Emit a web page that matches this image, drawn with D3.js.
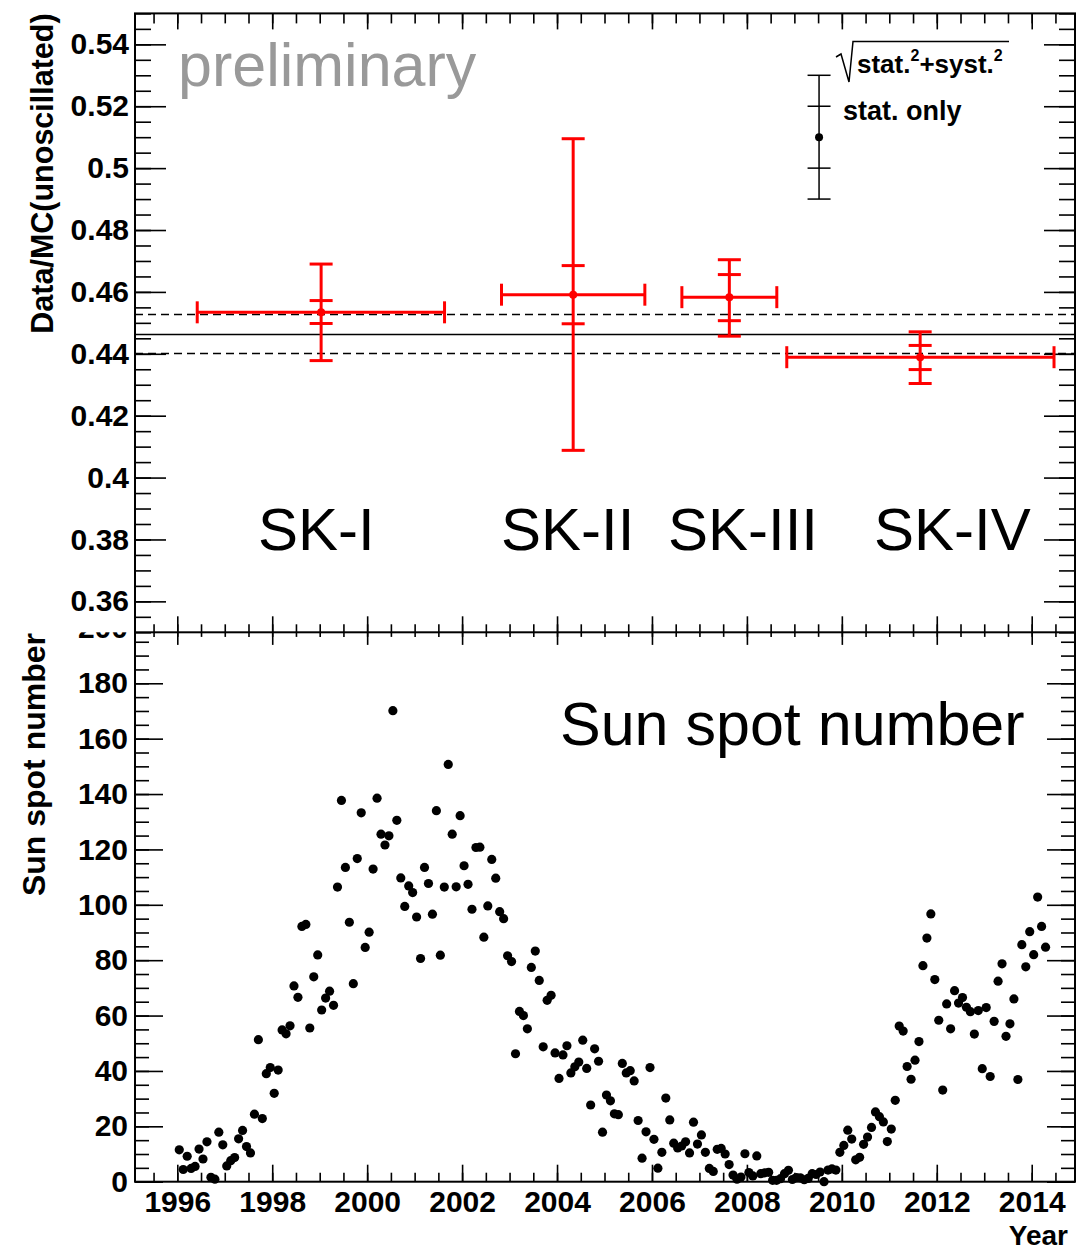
<!DOCTYPE html>
<html>
<head>
<meta charset="utf-8">
<script src="https://cdn.jsdelivr.net/npm/d3@7"></script>
<style>
  body { margin: 0; background: #fff; }
  svg { display: block; }
</style>
</head>
<body>
<div id="chart"></div>
<script>
// SK run periods, Data/MC(unoscillated) ratio with stat and stat+syst errors
const periods = ["SK-I", "SK-II", "SK-III", "SK-IV"];
const periodStart = [1996.42, 2002.83, 2006.63, 2008.84];
const periodEnd = [2001.63, 2005.85, 2008.63, 2014.47];
const periodMid = [1999.03, 2004.34, 2007.63, 2011.65];
const ratio = [0.4534, 0.4591, 0.4583, 0.4389];
const statLow = [0.4498, 0.4497, 0.4507, 0.4349];
const statHigh = [0.4572, 0.4685, 0.4656, 0.4427];
const totLow = [0.4378, 0.4088, 0.4457, 0.4304];
const totHigh = [0.4690, 0.5095, 0.4704, 0.4471];

// combined fit and its band
const avgRatio = 0.4462;
const avgBand = [0.4401, 0.4527];

// legend marker
const legendYear = 2009.52;
const legendRatio = 0.51;
const legendStat = 0.01;
const legendTot = 0.02;

// monthly sun spot numbers, Jan 1996 .. Apr 2014
const sunspotFirstYear = 1996;
const sunspots = [
  11.5, 4.4, 9.2, 4.8, 5.5, 11.8, 8.2, 14.4, 1.6, 0.9, 17.9, 13.3,          // 1996
  5.7, 7.6, 8.7, 15.5, 18.5, 12.7, 10.4, 24.4, 51.3, 22.8, 39.0, 41.2,      // 1997
  31.9, 40.3, 54.8, 53.4, 56.3, 70.7, 66.6, 92.2, 92.9, 55.5, 74.0, 81.9,   // 1998
  62.0, 66.3, 68.8, 63.7, 106.4, 137.7, 113.5, 93.7, 71.5, 116.7, 133.2, 84.6, // 1999
  90.1, 112.9, 138.5, 125.5, 121.6, 124.9, 170.1, 130.5, 109.7, 99.4, 106.8, 104.4, // 2000
  95.6, 80.6, 113.5, 107.7, 96.6, 134.0, 81.8, 106.4, 150.7, 125.5, 106.5, 132.2, // 2001
  114.1, 107.4, 98.4, 120.7, 120.8, 88.3, 99.6, 116.4, 109.6, 97.5, 95.0, 81.6, // 2002
  79.5, 46.2, 61.5, 60.0, 55.2, 77.4, 83.3, 72.7, 48.7, 65.5, 67.3, 46.5,   // 2003
  37.3, 45.8, 49.1, 39.3, 41.5, 43.2, 51.1, 40.9, 27.7, 48.0, 43.5, 17.9,   // 2004
  31.3, 29.2, 24.5, 24.2, 42.7, 39.3, 40.1, 36.4, 22.1, 8.5, 18.0, 41.2,    // 2005
  15.3, 4.9, 10.6, 30.2, 22.3, 13.9, 12.2, 12.9, 14.4, 10.4, 21.5, 13.6,    // 2006
  16.9, 10.6, 4.8, 3.7, 11.7, 12.0, 10.0, 6.2, 2.4, 0.9, 1.7, 10.1,         // 2007
  3.3, 2.1, 9.3, 2.9, 3.2, 3.4, 0.5, 0.5, 1.1, 2.9, 4.1, 0.8,               // 2008
  1.5, 1.4, 0.7, 1.2, 2.9, 2.6, 3.5, 0.0, 4.2, 4.6, 4.2, 10.6,              // 2009
  13.1, 18.6, 15.4, 7.9, 8.8, 13.5, 16.1, 19.6, 25.2, 23.5, 21.6, 14.5,     // 2010
  19.0, 29.4, 56.2, 54.4, 41.6, 37.0, 43.9, 50.6, 78.0, 88.0, 96.7, 73.0,   // 2011
  58.3, 33.1, 64.2, 55.2, 69.0, 64.5, 66.5, 63.0, 61.4, 53.3, 61.8, 40.8,   // 2012
  62.9, 38.0, 57.9, 72.4, 78.7, 52.5, 57.0, 66.0, 36.9, 85.6, 77.6, 90.3,   // 2013
  82.0, 102.8, 92.2, 84.7                                                   // 2014
];

// tick labels
const ratioTicks = [0.36, 0.38, 0.40, 0.42, 0.44, 0.46, 0.48, 0.50, 0.52, 0.54];
const sunTicks = [0, 20, 40, 60, 80, 100, 120, 140, 160, 180, 200];
const yearTicks = [1996, 1998, 2000, 2002, 2004, 2006, 2008, 2010, 2012, 2014];

const FONT = "'Liberation Sans', Arial, Helvetica, sans-serif";

function drawChart(selector) {
  let W = 1088, H = 1248,
    frameL = 135,
    frameR = 1075;

  let svg = d3.select(selector)
    .append("svg")
    .attr("width", W)
    .attr("height", H)
    .attr("font-family", FONT);

  let xYear = d3.scaleLinear().domain([1995.109, 2014.912]).range([frameL, frameR]);
  let ySun = d3.scaleLinear().domain([0, 200]).range([1181.7, 627.9]);
  let yRatio = d3.scaleLinear().domain([0.35, 0.55]).range([632.3, 13.4]);

  let yearMinor = d3.range(1995.5, 2014.91, 0.5);
  let sunMinor = d3.range(0, 200.1, 5);
  let ratioMinor = d3.range(0.35, 0.5501, 0.005);

  // puts a d3 axis on g, ROOT style (ticks only, no domain line)
  function addAxis(g, axis, x, y) {
    let a = g.append("g")
      .attr("transform", "translate(" + x + "," + y + ")")
      .call(axis);
    a.select(".domain").remove();
    a.attr("font-family", FONT)
      .attr("font-size", 30)
      .attr("font-weight", "bold");
    a.selectAll(".tick line")
      .attr("stroke", "#000")
      .attr("stroke-width", 1.6);
    a.selectAll(".tick text").attr("fill", "#000");
    return a;
  }

  // ---------- bottom pad: sun spot number ----------
  let bot = svg.append("g");

  addAxis(bot, d3.axisBottom(xYear).tickValues(yearTicks).tickSize(-17).tickPadding(9).tickFormat(d3.format("d")), 0, ySun(0));
  addAxis(bot, d3.axisBottom(xYear).tickValues(yearMinor).tickSize(-9).tickFormat(""), 0, ySun(0));
  addAxis(bot, d3.axisBottom(xYear).tickValues(yearTicks).tickSize(17).tickFormat(""), 0, ySun(200));
  addAxis(bot, d3.axisBottom(xYear).tickValues(yearMinor).tickSize(9).tickFormat(""), 0, ySun(200));

  addAxis(bot, d3.axisLeft(ySun).tickValues(sunTicks).tickSize(-28).tickPadding(7).tickFormat(d3.format("d")), frameL, 0);
  addAxis(bot, d3.axisLeft(ySun).tickValues(sunMinor).tickSize(-14).tickFormat(""), frameL, 0);
  addAxis(bot, d3.axisLeft(ySun).tickValues(sunTicks).tickSize(28).tickFormat(""), frameR, 0);
  addAxis(bot, d3.axisLeft(ySun).tickValues(sunMinor).tickSize(14).tickFormat(""), frameR, 0);

  bot.append("rect")
    .attr("x", frameL)
    .attr("y", ySun(200))
    .attr("width", frameR - frameL)
    .attr("height", ySun(0) - ySun(200))
    .attr("fill", "none")
    .attr("stroke", "#000")
    .attr("stroke-width", 2);

  bot.selectAll(".spot")
    .data(sunspots)
    .enter().append("circle")
    .attr("class", "spot")
    .attr("cx", (d, i) => xYear(sunspotFirstYear + (i + 0.5) / 12))
    .attr("cy", d => ySun(d))
    .attr("r", 4.6)
    .attr("fill", "#000");

  bot.append("text")
    .attr("x", 560)
    .attr("y", 745)
    .attr("font-size", 61)
    .text("Sun spot number");

  bot.append("text")
    .attr("x", 1068)
    .attr("y", 1245)
    .attr("text-anchor", "end")
    .attr("font-size", 28)
    .attr("font-weight", "bold")
    .text("Year");

  bot.append("text")
    .attr("transform", "translate(45,633) rotate(-90)")
    .attr("text-anchor", "end")
    .attr("font-size", 32)
    .attr("font-weight", "bold")
    .text("Sun spot number");

  // ---------- top pad: Data/MC ratio ----------
  let top = svg.append("g");

  // pad background hides the upper end of the lower pad
  top.append("rect")
    .attr("x", 0)
    .attr("y", 0)
    .attr("width", W)
    .attr("height", yRatio(0.35))
    .attr("fill", "#fff");

  addAxis(top, d3.axisLeft(yRatio).tickValues(ratioTicks).tickSize(-31).tickPadding(6).tickFormat(d => String(+d.toFixed(2))), frameL, 0);
  addAxis(top, d3.axisLeft(yRatio).tickValues(ratioMinor).tickSize(-16).tickFormat(""), frameL, 0);
  addAxis(top, d3.axisLeft(yRatio).tickValues(ratioTicks).tickSize(31).tickFormat(""), frameR, 0);
  addAxis(top, d3.axisLeft(yRatio).tickValues(ratioMinor).tickSize(16).tickFormat(""), frameR, 0);

  addAxis(top, d3.axisTop(xYear).tickValues(yearTicks).tickSize(16).tickFormat(""), 0, yRatio(0.35));
  addAxis(top, d3.axisTop(xYear).tickValues(yearMinor).tickSize(8).tickFormat(""), 0, yRatio(0.35));
  addAxis(top, d3.axisBottom(xYear).tickValues(yearTicks).tickSize(16).tickFormat(""), 0, yRatio(0.55));
  addAxis(top, d3.axisBottom(xYear).tickValues(yearMinor).tickSize(10).tickFormat(""), 0, yRatio(0.55));

  top.append("rect")
    .attr("x", frameL)
    .attr("y", yRatio(0.55))
    .attr("width", frameR - frameL)
    .attr("height", yRatio(0.35) - yRatio(0.55))
    .attr("fill", "none")
    .attr("stroke", "#000")
    .attr("stroke-width", 2);

  // average and its band
  top.append("line")
    .attr("x1", frameL).attr("x2", frameR)
    .attr("y1", yRatio(avgRatio)).attr("y2", yRatio(avgRatio))
    .attr("stroke", "#000")
    .attr("stroke-width", 1.5);

  top.selectAll(".band")
    .data(avgBand)
    .enter().append("line")
    .attr("class", "band")
    .attr("x1", frameL).attr("x2", frameR)
    .attr("y1", d => yRatio(d)).attr("y2", d => yRatio(d))
    .attr("stroke", "#000")
    .attr("stroke-width", 1.5)
    .attr("stroke-dasharray", "8,5");

  top.append("text")
    .attr("x", 178)
    .attr("y", 86)
    .attr("font-size", 61)
    .attr("fill", "#999")
    .text("preliminary");

  // error crosses
  let capW = 11.5;
  let pts = top.selectAll(".period")
    .data(periods)
    .enter().append("g")
    .attr("class", "period")
    .attr("stroke", "#ff0000")
    .attr("stroke-width", 3)
    .attr("fill", "#ff0000");

  pts.append("line")
    .attr("x1", (d, i) => xYear(periodStart[i]))
    .attr("x2", (d, i) => xYear(periodEnd[i]))
    .attr("y1", (d, i) => yRatio(ratio[i]))
    .attr("y2", (d, i) => yRatio(ratio[i]));

  [periodStart, periodEnd].forEach(arr => {
    pts.append("line")
      .attr("x1", (d, i) => xYear(arr[i]))
      .attr("x2", (d, i) => xYear(arr[i]))
      .attr("y1", (d, i) => yRatio(ratio[i]) - 11)
      .attr("y2", (d, i) => yRatio(ratio[i]) + 11);
  });

  pts.append("line")
    .attr("x1", (d, i) => xYear(periodMid[i]))
    .attr("x2", (d, i) => xYear(periodMid[i]))
    .attr("y1", (d, i) => yRatio(totLow[i]))
    .attr("y2", (d, i) => yRatio(totHigh[i]));

  [statLow, statHigh, totLow, totHigh].forEach(arr => {
    pts.append("line")
      .attr("x1", (d, i) => xYear(periodMid[i]) - capW)
      .attr("x2", (d, i) => xYear(periodMid[i]) + capW)
      .attr("y1", (d, i) => yRatio(arr[i]))
      .attr("y2", (d, i) => yRatio(arr[i]));
  });

  pts.append("circle")
    .attr("cx", (d, i) => xYear(periodMid[i]))
    .attr("cy", (d, i) => yRatio(ratio[i]))
    .attr("r", 4)
    .attr("stroke", "none");

  let skX = [258, 501, 668, 874];
  top.selectAll(".sk")
    .data(periods)
    .enter().append("text")
    .attr("class", "sk")
    .attr("x", (d, i) => skX[i])
    .attr("y", 550)
    .attr("font-size", 60)
    .text(d => d);

  // legend
  let lx = xYear(legendYear);
  let leg = top.append("g")
    .attr("stroke", "#000")
    .attr("stroke-width", 1.5);
  leg.append("line")
    .attr("x1", lx).attr("x2", lx)
    .attr("y1", yRatio(legendRatio - legendTot))
    .attr("y2", yRatio(legendRatio + legendTot));
  [-legendTot, -legendStat, legendStat, legendTot].forEach(e => {
    leg.append("line")
      .attr("x1", lx - capW).attr("x2", lx + capW)
      .attr("y1", yRatio(legendRatio + e))
      .attr("y2", yRatio(legendRatio + e));
  });
  leg.append("circle")
    .attr("cx", lx)
    .attr("cy", yRatio(legendRatio))
    .attr("r", 4)
    .attr("fill", "#000")
    .attr("stroke", "none");

  top.append("path")
    .attr("d", "M836,57 L841,54 L849,82 L853,41.5 L1009,41.5")
    .attr("fill", "none")
    .attr("stroke", "#000")
    .attr("stroke-width", 1.5);

  let sq = top.append("text")
    .attr("x", 857)
    .attr("y", 73)
    .attr("font-size", 26)
    .attr("font-weight", "bold");
  sq.append("tspan").text("stat.");
  sq.append("tspan").attr("dy", -12).attr("font-size", 16).text("2");
  sq.append("tspan").attr("dy", 12).text("+syst.");
  sq.append("tspan").attr("dy", -12).attr("font-size", 16).text("2");

  top.append("text")
    .attr("x", 843)
    .attr("y", 120)
    .attr("font-size", 27)
    .attr("font-weight", "bold")
    .text("stat. only");

  top.append("text")
    .attr("transform", "translate(53," + yRatio(0.55) + ") rotate(-90)")
    .attr("text-anchor", "end")
    .attr("font-size", 30.5)
    .attr("font-weight", "bold")
    .text("Data/MC(unoscillated)");
}

drawChart("#chart");
</script>
</body>
</html>
